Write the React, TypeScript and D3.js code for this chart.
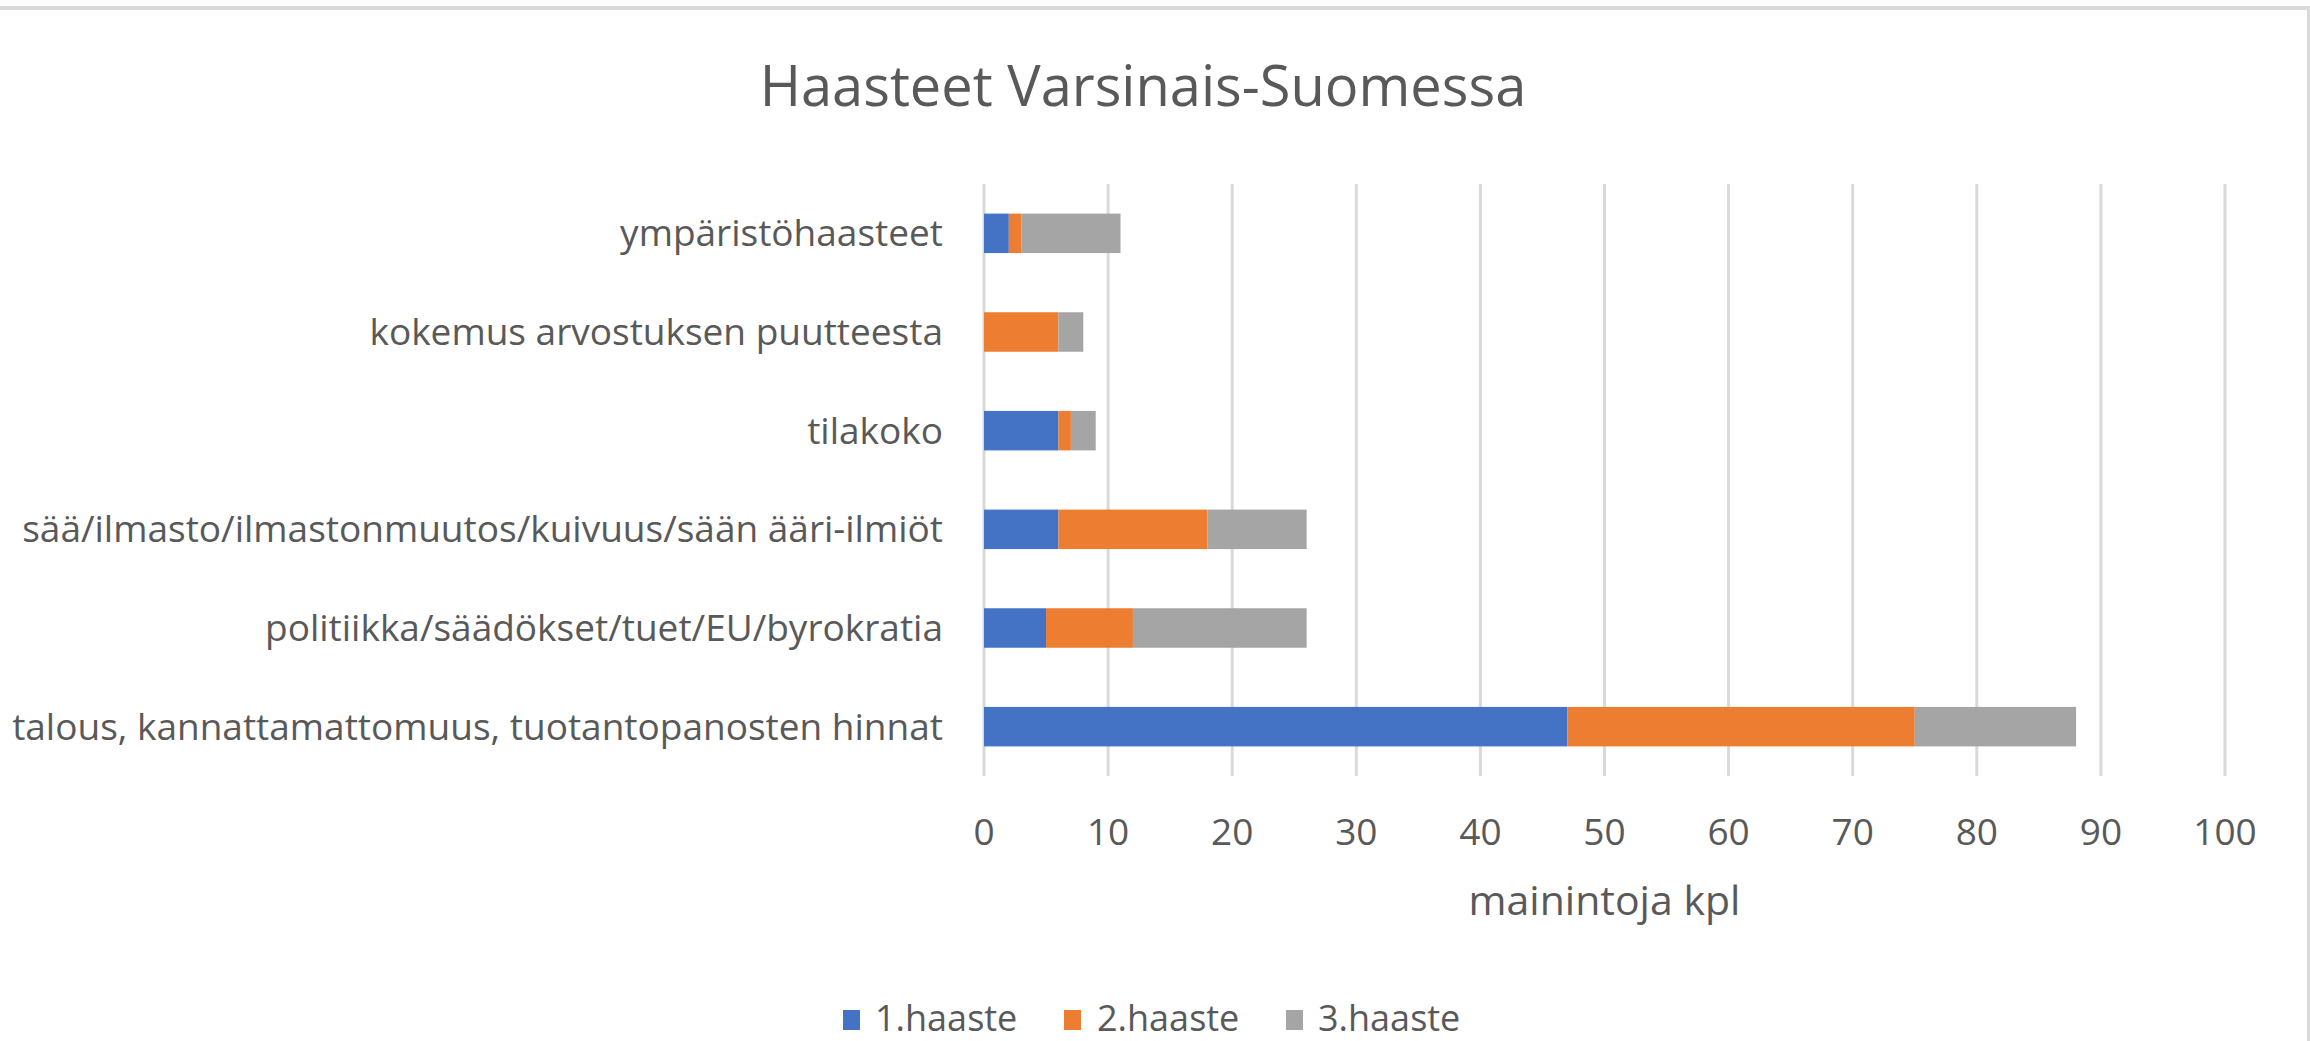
import React from "react";
import * as d3 from "d3";

const categories = [
  "talous, kannattamattomuus, tuotantopanosten hinnat",
  "politiikka/säädökset/tuet/EU/byrokratia",
  "sää/ilmasto/ilmastonmuutos/kuivuus/sään ääri-ilmiöt",
  "tilakoko",
  "kokemus arvostuksen puutteesta",
  "ympäristöhaasteet",
];
const series1 = [47, 5, 6, 6, 0, 2];
const series2 = [28, 7, 12, 1, 6, 1];
const series3 = [13, 14, 8, 2, 2, 8];
const seriesNames = ["1.haaste", "2.haaste", "3.haaste"];
const colors = ["#4472C4", "#ED7D31", "#A5A5A5"];
const xTicks = [0, 10, 20, 30, 40, 50, 60, 70, 80, 90, 100];
const title = "Haasteet Varsinais-Suomessa";
const xTitle = "mainintoja kpl";

const W = 2310;
const H = 1041;
const FONT = "'Open Sans', 'Noto Sans', sans-serif";
const TXT = "#595959";

export default function App() {
  const left = 984;
  const right = 2225;
  const top = 184;
  const bottom = 776;

  const x = d3.scaleLinear().domain([0, 100]).range([left, right]);
  const y = d3
    .scaleBand<string>()
    .domain([...categories].reverse())
    .range([top, bottom])
    .paddingInner(0.6)
    .paddingOuter(0.3);

  const rows = categories.map((c, i) => ({
    cat: c,
    s0: series1[i],
    s1: series2[i],
    s2: series3[i],
  }));
  const stack = d3.stack<any>().keys(["s0", "s1", "s2"]);
  const layers = stack(rows);

  const legendY = 1018;
  const legendItems = [
    { x: 843, tx: 875 },
    { x: 1064, tx: 1097 },
    { x: 1286, tx: 1318 },
  ];

  return (
    <svg
      width={W}
      height={H}
      style={{ position: "absolute", left: 0, top: 0, background: "#fff" }}
      fontFamily={FONT}
    >
      <rect x={0} y={0} width={W} height={H} fill="#fff" />
      <line x1={0} x2={W} y1={8} y2={8} stroke="#d9d9d9" strokeWidth={4} />
      <line x1={2308.5} x2={2308.5} y1={8} y2={H} stroke="#d9d9d9" strokeWidth={3} />

      <text x={1143} y={106} textAnchor="middle" fontSize={56} fill={TXT}>
        {title}
      </text>

      {xTicks.map((t) => (
        <line
          key={"g" + t}
          x1={x(t)}
          x2={x(t)}
          y1={top}
          y2={bottom}
          stroke="#d9d9d9"
          strokeWidth={3}
        />
      ))}

      {layers.map((layer, li) =>
        layer.map((d: any, i: number) => {
          const w = x(d[1]) - x(d[0]);
          if (w <= 0) return null;
          return (
            <rect
              key={li + "-" + i}
              x={x(d[0])}
              y={y(d.data.cat)!}
              width={w}
              height={y.bandwidth()}
              fill={colors[li]}
            />
          );
        })
      )}

      {categories.map((c) => (
        <text
          key={c}
          x={943}
          y={y(c)! + y.bandwidth() / 2}
          dy="0.35em"
          textAnchor="end"
          fontSize={37}
          fill={TXT}
        >
          {c}
        </text>
      ))}

      {xTicks.map((t) => (
        <text
          key={"t" + t}
          x={x(t)}
          y={832}
          dy="0.35em"
          textAnchor="middle"
          fontSize={37}
          fill={TXT}
        >
          {t}
        </text>
      ))}

      <text x={(left + right) / 2} y={915} textAnchor="middle" fontSize={41} fill={TXT}>
        {xTitle}
      </text>

      {seriesNames.map((n, i) => (
        <g key={n}>
          <rect
            x={legendItems[i].x}
            y={legendY - 8}
            width={17}
            height={20}
            fill={colors[i]}
          />
          <text x={legendItems[i].tx} y={legendY} dy="0.35em" fontSize={36} fill={TXT}>
            {n}
          </text>
        </g>
      ))}
    </svg>
  );
}
